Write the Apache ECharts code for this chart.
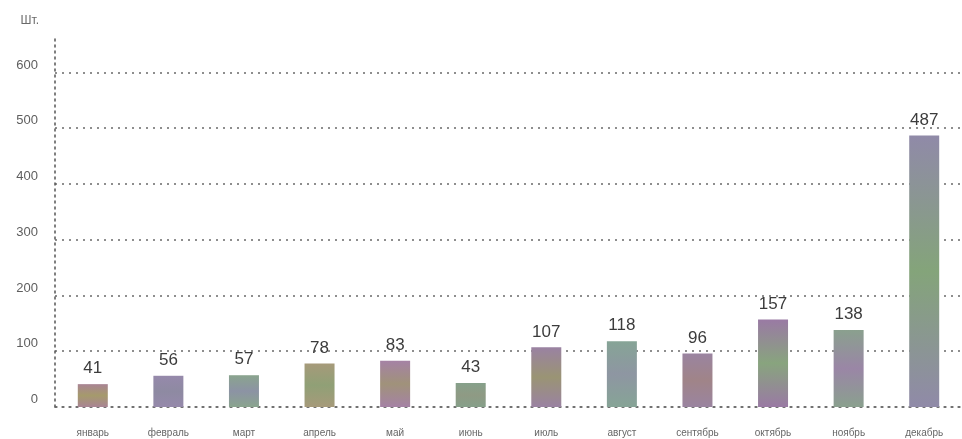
<!DOCTYPE html>
<html>
<head>
<meta charset="utf-8">
<script src="https://cdn.jsdelivr.net/npm/echarts@6/dist/echarts.min.js"></script>
<style>html,body{margin:0;padding:0;background:#fff}#c{width:962px;height:439px}</style>
</head>
<body>
<div id="c"></div>
<script>
const months = ['январь','февраль','март','апрель','май','июнь','июль','август','сентябрь','октябрь','ноябрь','декабрь'];
const values = [41, 56, 57, 78, 83, 43, 107, 118, 96, 157, 138, 487];
const yTicks = [0, 100, 200, 300, 400, 500, 600];
const unitLabel = 'Шт.';

const palette = [
  ['#a98494','#a59a6c'],
  ['#9689ab','#8e8aa2'],
  ['#8aa48e','#8c93a4'],
  ['#a69a7a','#90a076'],
  ['#a582a5','#a0927a'],
  ['#86a08a','#8f9a84'],
  ['#9a82a2','#9a9474'],
  ['#86a496','#8e96a2'],
  ['#9a84a0','#a08488'],
  ['#9a7aa4','#88a47e'],
  ['#8aa08e','#9a86a6'],
  ['#908aa8','#84a47a']
];

const chart = echarts.init(document.getElementById('c'), null, {renderer:'canvas'});
const gridColors = yTicks.map(() => '#6a6a6a').concat(['rgba(0,0,0,0)']);

chart.setOption({
  animation: false,
  backgroundColor: '#ffffff',
  grid: {left: 55, right: -6, top: 39, bottom: 32, containLabel: false},
  xAxis: {
    type: 'category',
    data: months,
    axisLine: {show: true, lineStyle: {color: '#6a6a6a', type: [2, 5], width: 1.5}},
    axisTick: {show: false},
    axisLabel: {margin: 21, fontSize: 10, color: '#666', fontFamily: 'Liberation Sans', interval: 0}
  },
  yAxis: {
    type: 'value',
    min: 0,
    max: 660,
    interval: 100,
    name: unitLabel,
    nameLocation: 'end',
    nameGap: 12,
    nameTextStyle: {align: 'right', padding: [0, 16, 0, 0], fontSize: 12, color: '#6a6a6a', fontFamily: 'Liberation Sans'},
    axisLine: {show: true, lineStyle: {color: '#555', type: [2, 4], width: 1.5}},
    axisTick: {show: false},
    splitLine: {show: true, lineStyle: {color: gridColors, type: [2, 5], width: 1.5}},
    axisLabel: {
      fontSize: 13, color: '#5e5e5e', fontFamily: 'Liberation Sans', margin: 17,
      verticalAlign: 'bottom', padding: [0, 0, 1, 0],
      formatter: v => (yTicks.indexOf(v) >= 0 ? String(v) : '')
    }
  },
  series: [{
    type: 'bar',
    barWidth: 30,
    data: values.map((v, i) => ({
      value: v,
      itemStyle: {
        color: new echarts.graphic.LinearGradient(0, 0, 0, 1, [
          {offset: 0, color: palette[i][0]},
          {offset: 0.5, color: palette[i][1]},
          {offset: 1, color: palette[i][0]}
        ])
      }
    })),
    label: {show: true, position: 'top', distance: 7, fontSize: 17, color: '#3c3c3c', fontFamily: 'Liberation Sans'}
  }]
});
</script>
</body>
</html>
